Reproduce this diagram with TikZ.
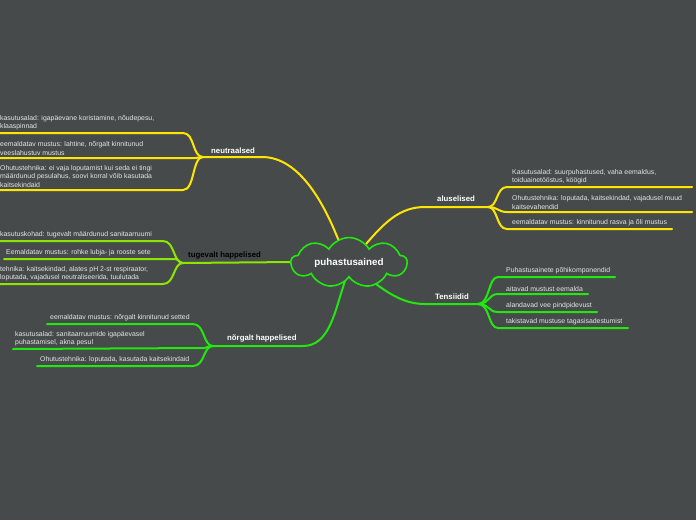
\documentclass[tikz,border=0pt]{standalone}
\usepackage{fontspec}
\setmainfont{Liberation Sans}
\usetikzlibrary{shapes.symbols}
\definecolor{bg}{HTML}{464A4A}
\definecolor{yel}{HTML}{FFE600}
\definecolor{grn}{HTML}{22E810}
\definecolor{lime}{HTML}{8CE600}
\definecolor{txt}{HTML}{E6E6E6}
\tikzset{
  leaf/.style={font=\fontsize{6.9}{8.6}\selectfont, text=txt, align=left, inner sep=0pt, anchor=south west},
  topic/.style={font=\bfseries\fontsize{7.8}{9}\selectfont, text=white, inner sep=0pt, anchor=south west},
  br/.style={line width=2pt, line cap=round},
}
\begin{document}
\begin{tikzpicture}[x=1pt,y=-1pt]
\fill[bg] (0,0) rectangle (696,520);
\useasboundingbox (0,0) rectangle (696,520);

% ---------- neutraalsed (yellow)
\coordinate (nF) at (203,157);
\coordinate (nE) at (262,157);
\coordinate (n1a) at (183,133); \coordinate (n1b) at (0,133);
\coordinate (n2a) at (195,158); \coordinate (n2b) at (0,158);
\coordinate (n3a) at (183,190); \coordinate (n3b) at (0,190);
\coordinate (cN) at (340,244);
\draw[br,yel] (cN) .. controls (325,205) and (300,157) .. (nE) -- (nF);
\draw[br,yel] (nF) .. controls (192,157) and (195,133) .. (n1a) -- (n1b);
\draw[br,yel] (nF) .. controls (199,157) .. (n2a) -- (n2b);
\draw[br,yel] (nF) .. controls (192,157) and (195,190) .. (n3a) -- (n3b);
\node[topic] (neu) at (211,154) {neutraalsed};
\node[leaf] (n1) at (0,130.5) {kasutusalad: igapäevane koristamine, nõudepesu,\\klaaspinnad};
\node[leaf] (n2) at (0,155.5) {eemaldatav mustus: lahtine, nõrgalt kinnitunud\\veeslahustuv mustus};
\node[leaf] (n3) at (0,187.5) {Ohutustehnika: ei vaja loputamist kui seda ei tingi\\määrdunud pesulahus, soovi korral võib kasutada\\kaitsekindaid};

% ---------- tugevalt happelised (lime)
\coordinate (tF) at (183,263);
\coordinate (cT) at (294,262);
\coordinate (t1a) at (163,241); \coordinate (t1b) at (0,241);
\coordinate (t2a) at (175,259); \coordinate (t2b) at (4,259);
\coordinate (t3a) at (163,284); \coordinate (t3b) at (0,284);
\draw[br,lime] (cT) -- (tF);
\draw[br,lime] (tF) .. controls (173,263) and (175,241) .. (t1a) -- (t1b);
\draw[br,lime] (tF) .. controls (179,263) and (179,259) .. (t2a) -- (t2b);
\draw[br,lime] (tF) .. controls (173,263) and (175,284) .. (t3a) -- (t3b);
\node[topic, text=black] (tug) at (188,259) {tugevalt happelised};
\node[leaf] (t1) at (0,238.5) {kasutuskohad: tugevalt määrdunud sanitaarruumi};
\node[leaf] (t2) at (6,256.5) {Eemaldatav mustus: rohke lubja- ja rooste sete};
\node[leaf] (t3) at (0,281.5) {tehnika: kaitsekindad, alates pH 2-st respiraator,\\loputada, vajadusel neutraliseerida, tuulutada};

% ---------- nõrgalt happelised (green)
\coordinate (gF) at (213,346);
\coordinate (gE) at (303,346);
\coordinate (cG) at (345,281);
\coordinate (g1a) at (193,324); \coordinate (g1b) at (47,324);
\coordinate (g2a) at (205,348); \coordinate (g2b) at (13,349);
\coordinate (g3a) at (193,366); \coordinate (g3b) at (37,366);
\draw[br,grn] (cG) .. controls (335,310) and (330,346) .. (gE) -- (gF);
\draw[br,grn] (gF) .. controls (203,346) and (205,324) .. (g1a) -- (g1b);
\draw[br,grn] (gF) .. controls (209,346) .. (g2a) -- (g2b);
\draw[br,grn] (gF) .. controls (203,346) and (205,366) .. (g3a) -- (g3b);
\node[topic] (nor) at (227,342) {nõrgalt happelised};
\node[leaf] (g1) at (50,321.5) {eemaldatav mustus: nõrgalt kinnitunud setted};
\node[leaf] (g2) at (15,346.5) {kasutusalad: sanitaarruumide igapäevasel\\puhastamisel, akna pesul};
\node[leaf] (g3) at (40,363.5) {Ohutustehnika: loputada, kasutada kaitsekindaid};

% ---------- aluselised (yellow)
\coordinate (aF) at (488,207);
\coordinate (aE) at (425,207);
\coordinate (cA) at (366,244);
\coordinate (a1a) at (507,187); \coordinate (a1b) at (692,187);
\coordinate (a2a) at (507,212); \coordinate (a2b) at (692,212);
\coordinate (a3a) at (507,229); \coordinate (a3b) at (672,229);
\draw[br,yel] (cA) .. controls (385,222) and (400,207) .. (aE) -- (aF);
\draw[br,yel] (aF) .. controls (498,207) and (496,187) .. (a1a) -- (a1b);
\draw[br,yel] (aF) .. controls (498,207) and (498,212) .. (a2a) -- (a2b);
\draw[br,yel] (aF) .. controls (498,207) and (496,229) .. (a3a) -- (a3b);
\node[topic] (alu) at (437,202) {aluselised};
\node[leaf] (a1) at (512,184.5) {Kasutusalad: suurpuhastused, vaha eemaldus,\\toiduainetööstus, köögid};
\node[leaf] (a2) at (512,209.5) {Ohutustehnika: loputada, kaitsekindad, vajadusel muud\\kaitsevahendid};
\node[leaf] (a3) at (512,226.5) {eemaldatav mustus: kinnitunud rasva ja õli mustus};

% ---------- Tensiidid (green)
\coordinate (sF) at (478,304);
\coordinate (sE) at (425,304);
\coordinate (cS) at (368,278);
\coordinate (s1a) at (498,277); \coordinate (s1b) at (615,277);
\coordinate (s2a) at (498,294); \coordinate (s2b) at (588,294);
\coordinate (s3a) at (498,312); \coordinate (s3b) at (597,312);
\coordinate (s4a) at (498,328); \coordinate (s4b) at (628,328);
\draw[br,grn] (cS) .. controls (390,295) and (405,304) .. (sE) -- (sF);
\draw[br,grn] (sF) .. controls (490,304) and (488,277) .. (s1a) -- (s1b);
\draw[br,grn] (sF) .. controls (490,304) and (488,294) .. (s2a) -- (s2b);
\draw[br,grn] (sF) .. controls (490,304) and (488,312) .. (s3a) -- (s3b);
\draw[br,grn] (sF) .. controls (490,304) and (488,328) .. (s4a) -- (s4b);
\node[topic] (ten) at (435,300) {Tensiidid};
\node[leaf] (s1) at (506,274.5) {Puhastusainete põhikomponendid};
\node[leaf] (s2) at (506,291.5) {aitavad mustust eemalda};
\node[leaf] (s3) at (506,309.5) {alandavad vee pindpidevust};
\node[leaf] (s4) at (506,325.5) {takistavad mustuse tagasisadestumist};

% ---------- central cloud
\node[cloud, cloud puffs=9, cloud puff arc=120, aspect=3, minimum width=116pt, minimum height=38pt,
      draw=grn, line width=1.6pt, fill=bg, inner sep=0pt,
      font=\bfseries\fontsize{9.8}{11}\selectfont, text=white] (root) at (349,262.5) {puhastusained};
\end{tikzpicture}
\end{document}
